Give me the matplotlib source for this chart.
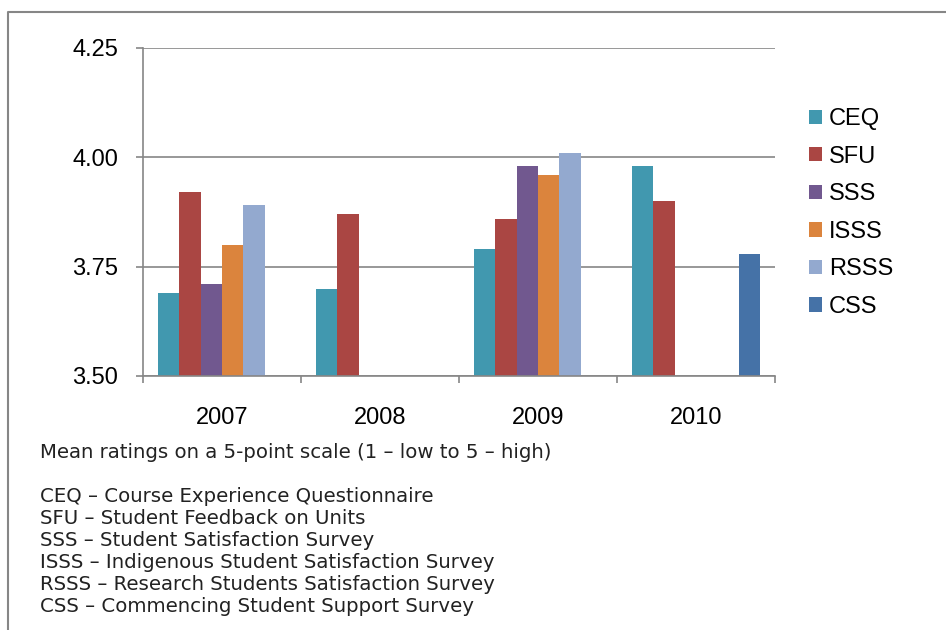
import numpy as np
import matplotlib.pyplot as plt
from matplotlib.lines import Line2D

plt.rcParams['font.family'] = ['Liberation Sans', 'DejaVu Sans']

years = ['2007', '2008', '2009', '2010']
series = ['CEQ', 'SFU', 'SSS', 'ISSS', 'RSSS', 'CSS']
ceq = [3.69, 3.70, 3.79, 3.98]
sfu = [3.92, 3.87, 3.86, 3.90]
sss = [3.71, np.nan, 3.98, np.nan]
isss = [3.80, np.nan, 3.96, np.nan]
rsss = [3.89, np.nan, 4.01, np.nan]
css = [np.nan, np.nan, np.nan, 3.78]
colors = ['#4198AF', '#AA4643', '#71588F', '#DB843D', '#93A9CF', '#4572A7']

notes = [
    'Mean ratings on a 5-point scale (1 \u2013 low to 5 \u2013 high)',
    '',
    'CEQ \u2013 Course Experience Questionnaire',
    'SFU \u2013 Student Feedback on Units',
    'SSS \u2013 Student Satisfaction Survey',
    'ISSS \u2013 Indigenous Student Satisfaction Survey',
    'RSSS \u2013 Research Students Satisfaction Survey',
    'CSS \u2013 Commencing Student Support Survey',
]

grey = '#868686'
fig = plt.figure(figsize=(9.46, 6.3), dpi=100)
ax = fig.add_axes([143 / 946, 1 - 376 / 630, 632 / 946, 328 / 630])

x = np.arange(len(years))
w = 0.136
for i, (name, vals) in enumerate(zip(series, [ceq, sfu, sss, isss, rsss, css])):
    vals = np.array(vals, dtype=float)
    ok = ~np.isnan(vals)
    ax.bar(x[ok] - 0.34 + i * w, vals[ok] - 3.5, bottom=3.5, width=w,
           color=colors[i], label=name, linewidth=0)

ax.set_ylim(3.5, 4.25)
ax.set_xlim(-0.5, 3.5)
ax.set_yticks([3.5, 3.75, 4.0, 4.25])
ax.set_yticklabels(['3.50', '3.75', '4.00', '4.25'])
ax.yaxis.grid(True, color=grey, linewidth=1.2)
ax.set_axisbelow(True)

ax.set_xticks(np.arange(-0.5, 4, 1))
ax.set_xticklabels([])
ax.set_xticks(x, minor=True)
ax.set_xticklabels(years, minor=True)
ax.tick_params(axis='x', which='major', length=5, width=1.2, color=grey)
ax.tick_params(axis='x', which='minor', length=0, pad=22, labelsize=17)
ax.tick_params(axis='y', length=5, width=1.2, color=grey, pad=13, labelsize=17)

for s in ['top', 'right']:
    ax.spines[s].set_visible(False)
for s in ['left', 'bottom']:
    ax.spines[s].set_color(grey)
    ax.spines[s].set_linewidth(1.2)

ax.legend(loc='upper left', bbox_to_anchor=(809 / 946, 1 - 108 / 630),
          bbox_transform=fig.transFigure, frameon=False, fontsize=17,
          handlelength=0.55, handleheight=0.55, handletextpad=0.3,
          labelspacing=0.66, borderpad=0, borderaxespad=0)

for k, line in enumerate(notes):
    if line:
        fig.text(40 / 946, 1 - (452 + 22 * k) / 630, line, fontsize=14.2,
                 family='DejaVu Sans', va='center', ha='left', color='#222222')

# outer chart frame (top and left edges visible)
fig.add_artist(Line2D([8 / 946, 8 / 946, 1], [0, 1 - 12 / 630, 1 - 12 / 630],
                      transform=fig.transFigure, color=grey, linewidth=1.5))

fig.savefig('out.png', dpi=100)
